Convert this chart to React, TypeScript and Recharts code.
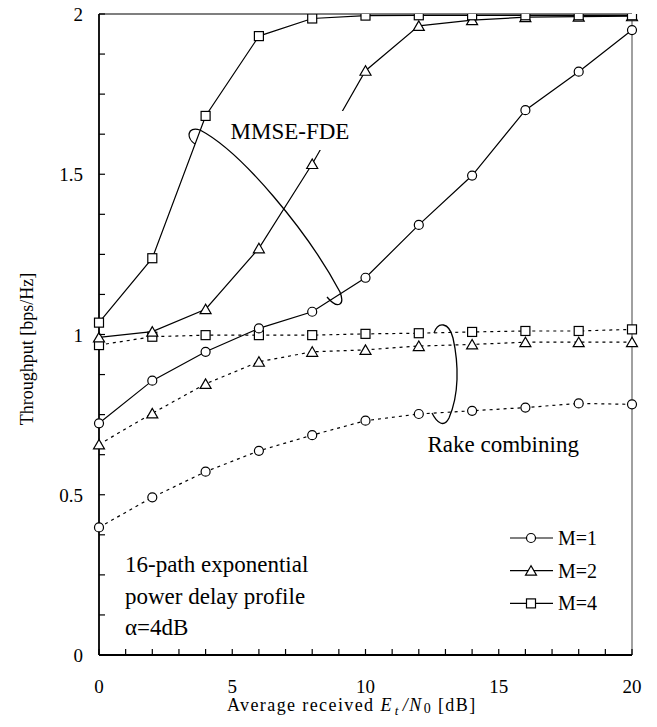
import React from 'react';
import { LineChart, Line, XAxis, YAxis, ReferenceLine } from 'recharts';

const snr = [0, 2, 4, 6, 8, 10, 12, 14, 16, 18, 20];
const mmseM1 = [0.723, 0.856, 0.946, 1.019, 1.071, 1.177, 1.342, 1.496, 1.7, 1.82, 1.95];
const mmseM2 = [0.991, 1.009, 1.079, 1.269, 1.532, 1.823, 1.963, 1.981, 1.99, 1.992, 1.993];
const mmseM4 = [1.037, 1.238, 1.682, 1.931, 1.986, 1.995, 1.996, 1.996, 1.996, 1.996, 1.996];
const rakeM1 = [0.398, 0.492, 0.572, 0.637, 0.686, 0.731, 0.752, 0.762, 0.772, 0.785, 0.782];
const rakeM2 = [0.657, 0.754, 0.846, 0.915, 0.946, 0.952, 0.964, 0.969, 0.976, 0.976, 0.976];
const rakeM4 = [0.967, 0.993, 0.998, 0.998, 0.998, 1.002, 1.004, 1.008, 1.011, 1.011, 1.016];

const xTicks = [0, 1, 2, 3, 4, 5, 6, 7, 8, 9, 10, 11, 12, 13, 14, 15, 16, 17, 18, 19, 20];
const xLabels = [0, 5, 10, 15, 20];
const yTicks = [0, 0.125, 0.25, 0.375, 0.5, 0.625, 0.75, 0.875, 1, 1.125, 1.25, 1.375, 1.5, 1.625, 1.75, 1.875, 2];
const yLabels = [0, 0.5, 1, 1.5, 2];
const legendItems = ['M=1', 'M=2', 'M=4'];

const rows = snr.map((s, i) => ({
  snr: s,
  mmse1: mmseM1[i],
  mmse2: mmseM2[i],
  mmse4: mmseM4[i],
  rake1: rakeM1[i],
  rake2: rakeM2[i],
  rake4: rakeM4[i],
}));

const FONT = '"Liberation Serif", "Times New Roman", Times, serif';
const tstyle = (size: number): React.CSSProperties => ({ fontFamily: FONT, fontSize: size, fill: '#000' });
const SW = 1.2;

const CircleMark = ({ cx, cy }: any) => (
  <circle cx={cx} cy={cy} r={4.5} fill="#fff" stroke="#000" strokeWidth={SW} />
);
const TriMark = ({ cx, cy }: any) => (
  <polygon
    points={`${cx},${cy - 5} ${cx - 5.5},${cy + 4.5} ${cx + 5.5},${cy + 4.5}`}
    fill="#fff"
    stroke="#000"
    strokeWidth={SW}
  />
);
const SqMark = ({ cx, cy }: any) => (
  <rect x={cx - 4.5} y={cy - 4.5} width={9} height={9} fill="#fff" stroke="#000" strokeWidth={SW} />
);

const dotFn = (Mark: any) => (p: any) => {
  if (p.cx == null || p.cy == null) return <g key={`n${p.index}`} />;
  return <Mark key={`d${p.index}`} cx={p.cx} cy={p.cy} />;
};

const XTick = (props: any) => {
  const { x, y, payload } = props;
  const v = payload.value;
  return (
    <g>
      <line x1={x} y1={y} x2={x} y2={y - 6} stroke="#000" strokeWidth={1.2} />
      {xLabels.includes(v) && (
        <text x={x} y={y + 38} textAnchor="middle" style={tstyle(19)}>
          {v}
        </text>
      )}
    </g>
  );
};

const YTick = (props: any) => {
  const { x, y, payload } = props;
  const v = payload.value;
  return (
    <g>
      <line x1={x} y1={y} x2={x + 6} y2={y} stroke="#000" strokeWidth={1.2} />
      {yLabels.includes(v) && (
        <text x={x - 16} y={y + 7} textAnchor="end" style={tstyle(19)}>
          {v}
        </text>
      )}
    </g>
  );
};

const legendMarks = [CircleMark, TriMark, SqMark];

export default function App() {
  return (
    <div style={{ position: 'relative', left: -8, top: -8, width: 657, height: 727, background: '#fff' }}>
      <LineChart width={657} height={727} data={rows} margin={{ top: 14, right: 25, left: 0, bottom: 0 }}>
        <XAxis
          dataKey="snr"
          type="number"
          domain={[0, 20]}
          ticks={xTicks}
          interval={0}
          tick={<XTick />}
          tickLine={false}
          tickSize={0}
          tickMargin={0}
          height={72}
          axisLine={{ stroke: '#000', strokeWidth: 1.8 }}
        />
        <YAxis
          type="number"
          domain={[0, 2]}
          ticks={yTicks}
          interval={0}
          tick={<YTick />}
          tickLine={false}
          tickSize={0}
          tickMargin={0}
          width={99}
          allowDataOverflow
          axisLine={{ stroke: '#000', strokeWidth: 1.8 }}
        />
        <ReferenceLine y={2} stroke="#000" strokeWidth={1.2} />
        <ReferenceLine x={20} stroke="#808080" strokeWidth={1.5} />
        <Line dataKey="rake1" stroke="#000" strokeWidth={SW} strokeDasharray="3 4" dot={dotFn(CircleMark)} activeDot={false} isAnimationActive={false} />
        <Line dataKey="rake2" stroke="#000" strokeWidth={SW} strokeDasharray="3 4" dot={dotFn(TriMark)} activeDot={false} isAnimationActive={false} />
        <Line dataKey="rake4" stroke="#000" strokeWidth={SW} strokeDasharray="3 4" dot={dotFn(SqMark)} activeDot={false} isAnimationActive={false} />
        <Line dataKey="mmse1" stroke="#000" strokeWidth={SW} dot={dotFn(CircleMark)} activeDot={false} isAnimationActive={false} />
        <Line dataKey="mmse2" stroke="#000" strokeWidth={SW} dot={dotFn(TriMark)} activeDot={false} isAnimationActive={false} />
        <Line dataKey="mmse4" stroke="#000" strokeWidth={SW} dot={dotFn(SqMark)} activeDot={false} isAnimationActive={false} />
      </LineChart>
      <svg
        width={657}
        height={727}
        style={{ position: 'absolute', left: 0, top: 0, pointerEvents: 'none' }}
      >
        {/* MMSE-FDE label */}
        <rect x={226} y={111} width={130} height={39} fill="#fff" />
        <text x={230.5} y={138.5} style={tstyle(23)}>MMSE-FDE</text>
        <path
          d="M 195,144 C 186,138 187,126 200,130 C 242,152 308,232 340,292 C 345,305 338,310 327,297"
          fill="none"
          stroke="#000"
          strokeWidth={1.3}
        />
        {/* Rake combining */}
        <path
          d="M 434,333 C 438,321 449,322 453,338 C 459,365 459,395 449,418 C 444,428 437,423 432,413"
          fill="none"
          stroke="#000"
          strokeWidth={1.3}
        />
        <text x={427.5} y={452} style={tstyle(23)}>Rake combining</text>
        {/* Bottom-left note */}
        <text x={125} y={572} style={tstyle(23)}>16-path exponential</text>
        <text x={125} y={604} style={tstyle(23)}>power delay profile</text>
        <text x={125} y={635} style={tstyle(23)}>α=4dB</text>
        {/* Legend */}
        {legendItems.map((lab, i) => {
          const yy = 538 + i * 32.7;
          const Mk = legendMarks[i];
          return (
            <g key={lab}>
              <line x1={510} y1={yy} x2={553} y2={yy} stroke="#000" strokeWidth={SW} />
              <Mk cx={531} cy={yy} />
              <text x={558} y={yy + 7} style={tstyle(20)}>{lab}</text>
            </g>
          );
        })}
        {/* Axis titles */}
        <text x={33} y={349} textAnchor="middle" transform="rotate(-90 33 349)" style={tstyle(18)}>
          Throughput [bps/Hz]
        </text>
        <text x={227} y={711} style={{ ...tstyle(18), letterSpacing: 1.4 }}>
          Average received <tspan fontStyle="italic">E</tspan>
          <tspan fontStyle="italic" fontSize={13} dx={2} dy={4}>t</tspan>
          <tspan fontStyle="italic" dx={3} dy={-4}>/N</tspan>
          <tspan fontSize={14} dx={1} dy={2}>0</tspan>
          <tspan dy={-2}> [dB]</tspan>
        </text>
      </svg>
    </div>
  );
}
